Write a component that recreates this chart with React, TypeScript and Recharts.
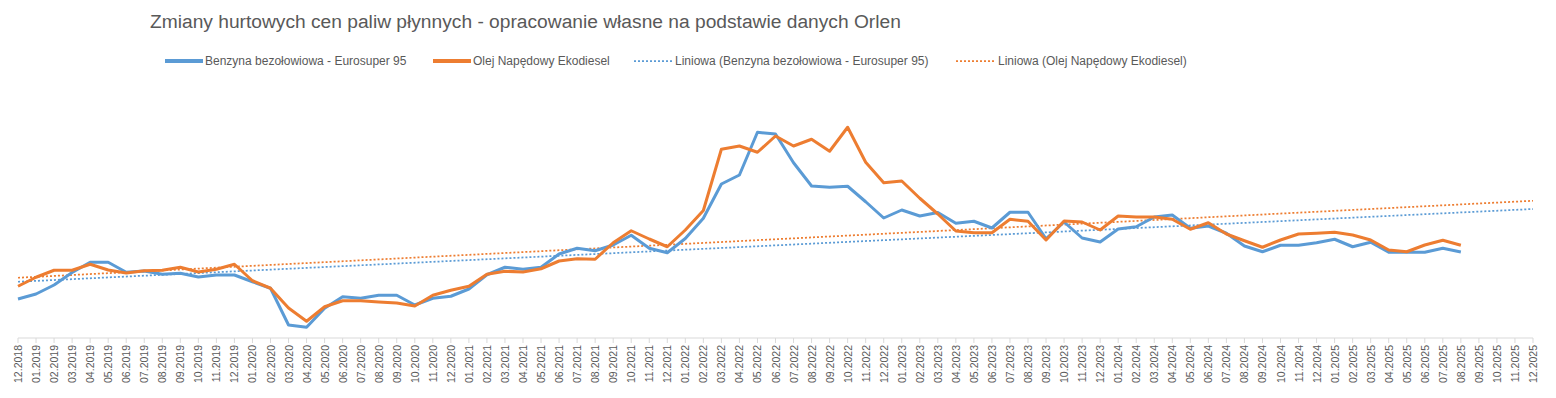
import React from 'react';
import { LineChart, Line, XAxis, YAxis, Legend } from 'recharts';

const months = [
  '12.2018',
  '01.2019', '02.2019', '03.2019', '04.2019', '05.2019', '06.2019', '07.2019', '08.2019', '09.2019', '10.2019', '11.2019', '12.2019',
  '01.2020', '02.2020', '03.2020', '04.2020', '05.2020', '06.2020', '07.2020', '08.2020', '09.2020', '10.2020', '11.2020', '12.2020',
  '01.2021', '02.2021', '03.2021', '04.2021', '05.2021', '06.2021', '07.2021', '08.2021', '09.2021', '10.2021', '11.2021', '12.2021',
  '01.2022', '02.2022', '03.2022', '04.2022', '05.2022', '06.2022', '07.2022', '08.2022', '09.2022', '10.2022', '11.2022', '12.2022',
  '01.2023', '02.2023', '03.2023', '04.2023', '05.2023', '06.2023', '07.2023', '08.2023', '09.2023', '10.2023', '11.2023', '12.2023',
  '01.2024', '02.2024', '03.2024', '04.2024', '05.2024', '06.2024', '07.2024', '08.2024', '09.2024', '10.2024', '11.2024', '12.2024',
  '01.2025', '02.2025', '03.2025', '04.2025', '05.2025', '06.2025', '07.2025', '08.2025', '09.2025', '10.2025', '11.2025', '12.2025',
];

// Benzyna bezołowiowa - Eurosuper 95 (zł/m3, estimated), 12.2018 - 08.2025
const benzyna = [
  3380,
  3480, 3660, 3910, 4115, 4115, 3915, 3940, 3875, 3895, 3820, 3860, 3860,
  3725, 3595, 2860, 2815, 3195, 3425, 3395, 3455, 3455, 3260, 3395, 3435,
  3580, 3865, 4015, 3975, 4015, 4280, 4395, 4345, 4460, 4655, 4395, 4305,
  4590, 4995, 5680, 5860, 6715, 6680, 6105, 5640, 5615, 5635, 5325, 5000,
  5160, 5040, 5110, 4895, 4935, 4800, 5115, 5115, 4585, 4920, 4600, 4520,
  4780, 4825, 5020, 5060, 4795, 4840, 4695, 4440, 4325, 4455, 4455, 4505,
  4575, 4425, 4515, 4315, 4315, 4315, 4395, 4320,
];

// Olej Napędowy Ekodiesel (zł/m3, estimated)
const ekodiesel = [
  3635,
  3815, 3955, 3955, 4075, 3960, 3900, 3945, 3955, 4015, 3920, 3975, 4075,
  3745, 3595, 3200, 2935, 3225, 3345, 3345, 3320, 3300, 3240, 3455, 3555,
  3635, 3875, 3935, 3920, 3985, 4140, 4185, 4175, 4505, 4745, 4580, 4425,
  4760, 5150, 6375, 6440, 6315, 6640, 6440, 6575, 6335, 6815, 6115, 5705,
  5740, 5395, 5080, 4740, 4705, 4705, 4975, 4935, 4560, 4940, 4920, 4760,
  5040, 5020, 5020, 4975, 4775, 4905, 4680, 4545, 4415, 4560, 4680, 4695,
  4715, 4660, 4560, 4360, 4325, 4460, 4555, 4455,
];

// linear trend lines, start (12.2018) and end (12.2025) values
const trendBenzyna = [3725, 5180];
const trendEkodiesel = [3805, 5345];

const last = months.length - 1;
const data = months.map((m, i) => ({
  month: m,
  benzyna: i < benzyna.length ? benzyna[i] : null,
  ekodiesel: i < ekodiesel.length ? ekodiesel[i] : null,
  trendB: i === 0 ? trendBenzyna[0] : i === last ? trendBenzyna[1] : null,
  trendE: i === 0 ? trendEkodiesel[0] : i === last ? trendEkodiesel[1] : null,
}));

const BLUE = '#5B9BD5';
const ORANGE = '#ED7D31';
const TEXT = '#595959';
const FONT = '"Liberation Sans", Arial, sans-serif';

const MonthTick = ({ x, y, payload }: any) => (
  <text
    x={x}
    y={y}
    transform={`rotate(-90 ${x} ${y})`}
    textAnchor="end"
    dominantBaseline="central"
    fontSize={10.5}
    fontFamily={FONT}
    fill={TEXT}
  >
    {payload.value}
  </text>
);

const legendItems = [
  { label: 'Benzyna bezołowiowa - Eurosuper 95', color: BLUE, dotted: false, sx: 165, tx: 205 },
  { label: 'Olej Napędowy Ekodiesel', color: ORANGE, dotted: false, sx: 433, tx: 473 },
  { label: 'Liniowa (Benzyna bezołowiowa - Eurosuper 95)', color: BLUE, dotted: true, sx: 634, tx: 675 },
  { label: 'Liniowa (Olej Napędowy Ekodiesel)', color: ORANGE, dotted: true, sx: 956, tx: 998 },
];

const ChartLegend = () => (
  <div style={{ position: 'relative', width: 1556, height: 22 }}>
    {legendItems.map((it) => (
      <React.Fragment key={it.label}>
        <svg style={{ position: 'absolute', left: it.sx, top: 9 }} width={38} height={4}>
          <line
            x1={0}
            y1={2}
            x2={38}
            y2={2}
            stroke={it.color}
            strokeWidth={it.dotted ? 1.75 : 4}
            strokeDasharray={it.dotted ? '2 2' : undefined}
          />
        </svg>
        <span
          style={{
            position: 'absolute',
            left: it.tx,
            top: 3,
            fontSize: 12,
            fontFamily: FONT,
            color: TEXT,
            whiteSpace: 'nowrap',
            lineHeight: '16px',
          }}
        >
          {it.label}
        </span>
      </React.Fragment>
    ))}
  </div>
);

export default function App() {
  return (
    <div style={{ position: 'relative', width: 1556, height: 398, background: '#fff' }}>
      <style>{'body{margin:0}'}</style>
      <div
        style={{
          position: 'absolute',
          left: 150,
          top: 9,
          fontSize: 19.2,
          fontFamily: FONT,
          color: TEXT,
          whiteSpace: 'nowrap',
          lineHeight: '26px',
        }}
      >
        Zmiany hurtowych cen paliw płynnych - opracowanie własne na podstawie danych Orlen
      </div>
      <LineChart width={1556} height={398} data={data} margin={{ top: 78, right: 23, left: 18, bottom: 0 }}>
        <XAxis
          dataKey="month"
          interval={0}
          height={60}
          tick={<MonthTick />}
          tickSize={5}
          tickLine={{ stroke: '#d9d9d9' }}
          axisLine={{ stroke: '#d9d9d9' }}
        />
        <YAxis
          width={0}
          domain={[2600, 7800]}
          tick={false}
          tickLine={false}
          axisLine={{ stroke: '#d9d9d9' }}
        />
        <Legend
          layout="horizontal"
          verticalAlign="middle"
          align="center"
          content={() => <ChartLegend />}
          wrapperStyle={{ top: 50, left: 0, width: 1556 }}
        />
        <Line
          type="linear"
          dataKey="trendB"
          stroke={BLUE}
          strokeWidth={1.75}
          strokeDasharray="2 2"
          dot={false}
          connectNulls
          isAnimationActive={false}
        />
        <Line
          type="linear"
          dataKey="trendE"
          stroke={ORANGE}
          strokeWidth={1.75}
          strokeDasharray="2 2"
          dot={false}
          connectNulls
          isAnimationActive={false}
        />
        <Line
          type="linear"
          dataKey="benzyna"
          stroke={BLUE}
          strokeWidth={3}
          strokeLinejoin="round"
          dot={false}
          isAnimationActive={false}
        />
        <Line
          type="linear"
          dataKey="ekodiesel"
          stroke={ORANGE}
          strokeWidth={3}
          strokeLinejoin="round"
          dot={false}
          isAnimationActive={false}
        />
      </LineChart>
    </div>
  );
}
